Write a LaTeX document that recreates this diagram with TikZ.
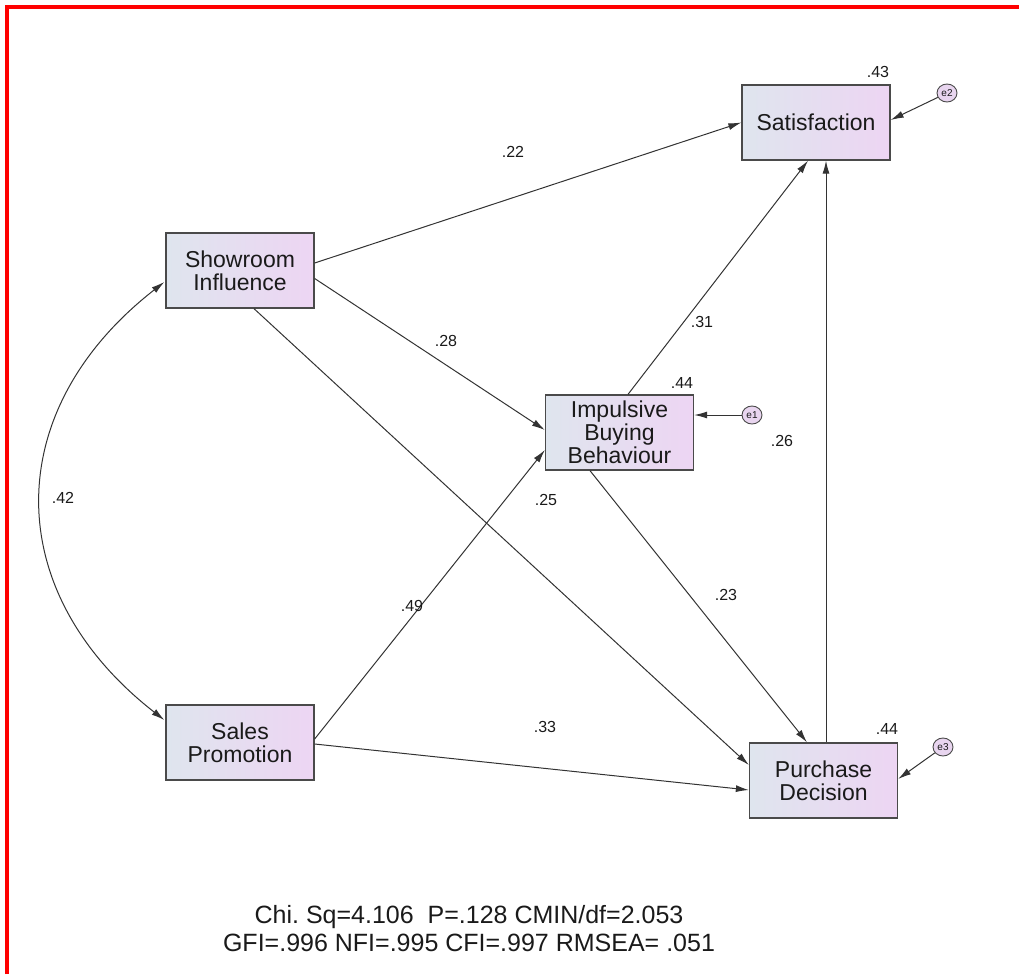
\documentclass[tikz,border=0pt]{standalone}
\usepackage{fontspec}
\setmainfont{Liberation Sans}
\usetikzlibrary{arrows.meta,calc,shapes.geometric}
\definecolor{boxL}{HTML}{DFE5EE}
\definecolor{boxR}{HTML}{EDD5F3}
\definecolor{edgec}{HTML}{333333}
\definecolor{boxline}{HTML}{4A4A4A}
\definecolor{errfill}{HTML}{E8D5EF}
\definecolor{txt}{HTML}{1A1A1A}
\frenchspacing
\begin{document}
\begin{tikzpicture}[x=1pt,y=-1pt,
  varbox/.style={draw=boxline, line width=1.3pt, minimum width=148pt, minimum height=75pt,
    inner sep=0pt, align=center, font=\fontsize{23}{23}\selectfont, text=txt,
    left color=boxL, right color=boxR},
  errnode/.style={ellipse, draw=boxline, line width=0.9pt, fill=errfill, minimum width=20pt,
    minimum height=18pt, inner sep=0pt, font=\fontsize{10}{10}\selectfont, text=txt},
  path/.style={draw=edgec, line width=1pt, -{Latex[length=13pt,width=7pt]}},
  lbl/.style={font=\fontsize{16}{16}\selectfont, text=txt, inner sep=0pt},
]
\useasboundingbox (0,0) rectangle (1019,974);
\draw[red, line width=4pt] (7,974) -- (7,7) -- (1019,7);

% variables
\node[varbox] (sat) at (816,122.5) {Satisfaction};
\node[varbox] (ibb) at (619.5,432.5) {Impulsive\\Buying\\Behaviour};
\node[varbox] (pd)  at (823.5,780.5) {Purchase\\Decision};
\node[varbox] (si)  at (240,270.5) {Showroom\\Influence};
\node[varbox] (sp)  at (240,742.5) {Sales\\Promotion};

% error terms
\node[errnode] (e1) at (752,415) {e1};
\node[errnode] (e2) at (947,93) {e2};
\node[errnode] (e3) at (943,747) {e3};

% paths
\draw[path] ($(si.east)+(0,-7.5)$) -- (sat.west);
\draw[path] ($(si.east)+(0,8)$) -- ($(ibb.west)+(0,-2.5)$);
\draw[path] ($(si.south)+(14,0)$) -- ($(pd.west)+(0,-15.5)$);
\draw[path] ($(sp.east)+(0,-3.5)$) -- ($(ibb.west)+(0,17.5)$);
\draw[path] ($(sp.east)+(0,1.5)$) -- ($(pd.west)+(0,9.5)$);
\draw[path] ($(ibb.north)+(8.5,0)$) -- ($(sat.south)+(-8,0)$);
\draw[path] ($(ibb.south)+(-29.5,0)$) -- ($(pd.north)+(-16.5,0)$);
\draw[path] ($(pd.north)+(2.5,0)$) -- ($(sat.south)+(10,0)$);

% covariance
\coordinate (c1) at ($(si.west)+(-1,11.5)$);
\coordinate (c2) at ($(sp.west)+(-1,-22.5)$);
\draw[draw=edgec, line width=1pt, {Latex[length=13pt,width=7pt]}-{Latex[length=13pt,width=7pt]}]
  (c1) .. controls (0,410) and (0,592) .. (c2);

% error arrows
\draw[path] (e2) -- ($(sat.east)+(0,-2.5)$);
\draw[path] (e1) -- ($(ibb.east)+(0,-17.5)$);
\draw[path] (e3) -- ($(pd.east)+(0,-1.5)$);

% labels
\node[lbl] (l22) at (513,152) {.22};
\node[lbl] (l28) at (446,341) {.28};
\node[lbl] (l25) at (546,500) {.25};
\node[lbl] (l49) at (412,606) {.49};
\node[lbl] (l33) at (545,727) {.33};
\node[lbl] (l31) at (702,322) {.31};
\node[lbl] (l23) at (726,595) {.23};
\node[lbl] (l26) at (782,441) {.26};
\node[lbl] (l42) at (63,498) {.42};
\node[lbl] (r43) at (878,72) {.43};
\node[lbl] (r44a) at (682,383) {.44};
\node[lbl] (r44b) at (887,729) {.44};

% fit statistics
\node[align=center, font=\fontsize{25}{28}\selectfont, text=txt, inner sep=0pt] (fit) at (469,929)
  {Chi. Sq=4.106\ \ P=.128 CMIN/df=2.053\\GFI=.996 NFI=.995 CFI=.997 RMSEA= .051};
\end{tikzpicture}
\end{document}
